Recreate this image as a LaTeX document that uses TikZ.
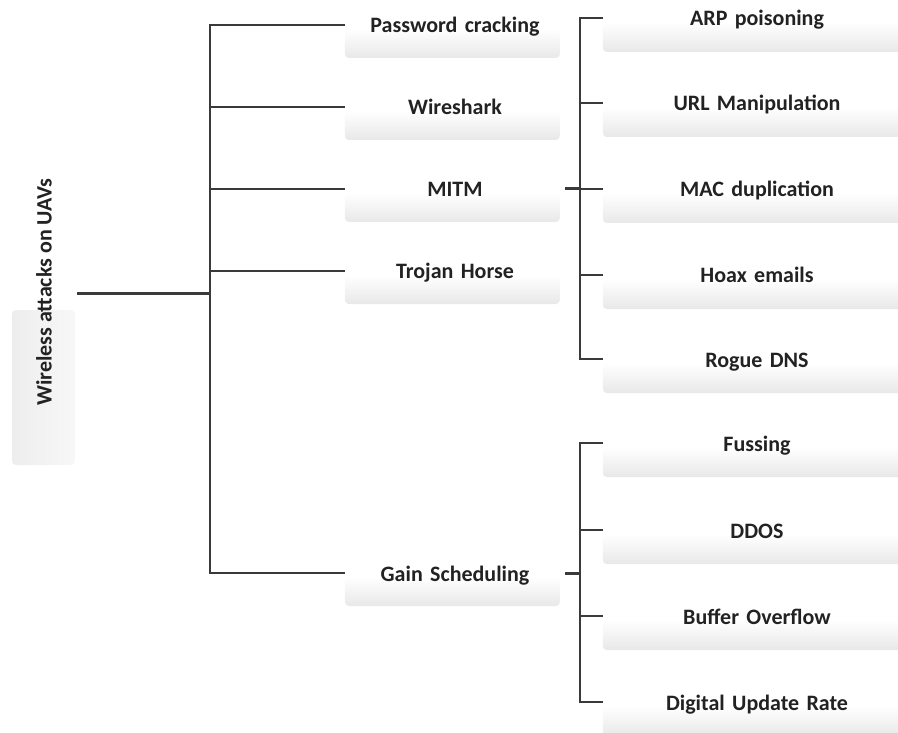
\documentclass[tikz,border=0pt]{standalone}
\usepackage{fontspec}
\setmainfont{Carlito}
\usetikzlibrary{backgrounds,calc}
\definecolor{ink}{HTML}{222222}
\definecolor{wire}{HTML}{3A3A3A}
\begin{document}
\begin{tikzpicture}[x=1pt,y=-1pt,
  labelfont/.style={font=\fontsize{22}{26}\selectfont\bfseries, text=ink},
  lvlone/.style={labelfont, text width=220pt, align=center, inner xsep=0pt, inner ysep=0pt, text height=21pt, text depth=5pt},
  lvltwo/.style={labelfont, text width=308pt, align=center, inner xsep=0pt, inner ysep=0pt, text height=21pt, text depth=5pt},
  wireline/.style={draw=wire, line width=2pt},
  heavywire/.style={draw=wire, line width=3pt},
  boxshade/.style={rounded corners=4pt, top color=white, bottom color=black!9}
]
\useasboundingbox (0,0) rectangle (898,733);

% root label, set vertically
\node[labelfont, rotate=90, inner sep=0pt] (root) at (44,292) {Wireless attacks on UAVs};
\coordinate (rootend) at (77,293);
\coordinate (hub) at (210,293);

% first level
\node[lvlone] (pw)   at (455,25)  {Password cracking};
\node[lvlone] (ws)   at (455,107) {Wireshark};
\node[lvlone] (mitm) at (455,189) {MITM};
\node[lvlone] (tro)  at (455,271) {Trojan Horse};
\node[lvlone] (gs)   at (455,573) {Gain Scheduling};

% MITM variants
\coordinate (mhub) at (580,189);
\node[lvltwo] (arp)   at (757,18)  {ARP poisoning};
\node[lvltwo] (url)   at (757,103) {URL Manipulation};
\node[lvltwo] (mac)   at (757,189) {MAC duplication};
\node[lvltwo] (hoax)  at (757,275) {Hoax emails};
\node[lvltwo] (rogue) at (757,359) {Rogue DNS};

% gain scheduling variants
\coordinate (ghub) at (580,573);
\node[lvltwo] (fus)  at (757,443) {Fussing};
\node[lvltwo] (ddos) at (757,530) {DDOS};
\node[lvltwo] (buf)  at (757,616) {Buffer Overflow};
\node[lvltwo] (dur)  at (757,702) {Digital Update Rate};

% connectors
\draw[heavywire] (rootend) -- (hub);
\foreach \n in {pw,ws,mitm,tro,gs} \draw[wireline] (\n.west) -| (hub);
\draw[heavywire] (mitm.east) -- (mhub);
\foreach \n in {arp,url,mac,hoax,rogue} \draw[wireline] (\n.west) -| (mhub);
\draw[heavywire] (gs.east) -- (ghub);
\foreach \n in {fus,ddos,buf,dur} \draw[wireline] (\n.west) -| (ghub);

% soft label plates
\begin{scope}[on background layer]
  \shade[rounded corners=4pt, left color=black!7, right color=black!3] (12,310) rectangle (75,465);
  \foreach \n in {pw,ws,mitm,tro,gs}
    \shade[boxshade] ($(\n.west)+(0,4)$) rectangle ($(\n.west)+(215,33)$);
  \foreach \n in {arp,url,mac,hoax,rogue,fus,ddos,buf,dur}
    \shade[boxshade] ($(\n.west)+(0,4)$) rectangle ($(\n.west)+(300,34)$);
\end{scope}
\end{tikzpicture}
\end{document}
